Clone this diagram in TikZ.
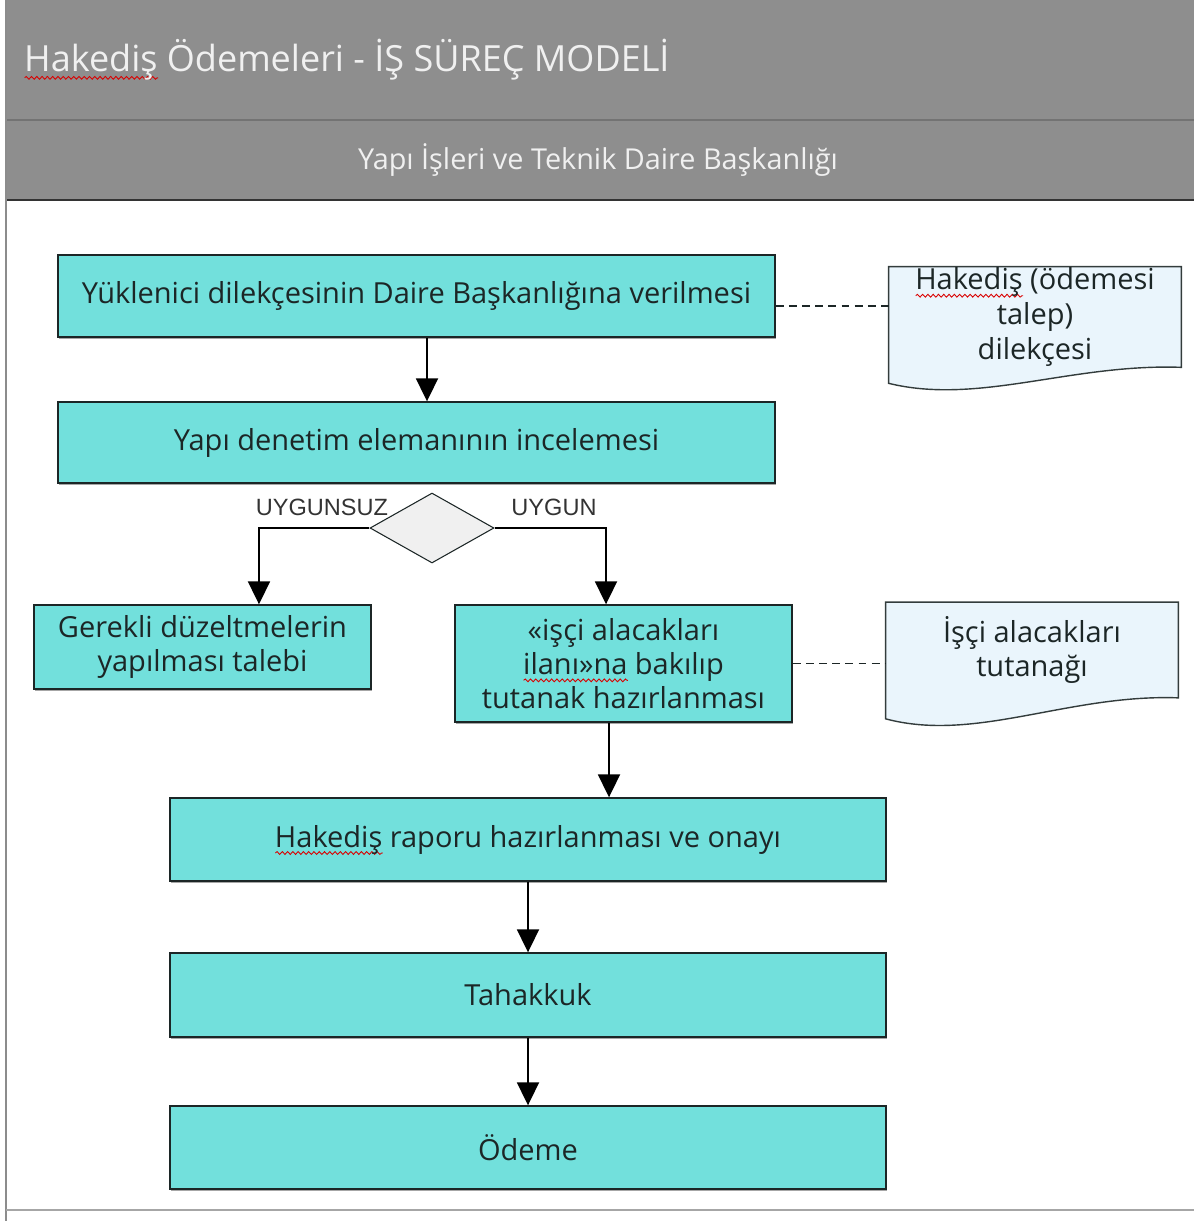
\documentclass[tikz,border=0pt]{standalone}
\usepackage{fontspec}
\usepackage{xcolor}
\usepackage{tikz}
\usetikzlibrary{arrows.meta,positioning,shapes.geometric,calc,backgrounds,shadows,decorations.pathmorphing}
\setmainfont{Open Sans}
\newfontfamily\lblfont{Liberation Sans}
\definecolor{band}{HTML}{8E8E8E}
\definecolor{turq}{HTML}{72E0DC}
\definecolor{paper}{HTML}{EAF5FC}
\definecolor{ink}{HTML}{1C2626}
% wavy red mark under a word
\newlength\spellw
\newcommand\spellmark[1]{\settowidth\spellw{#1}\leavevmode\rlap{\smash{\tikz[baseline=0pt]\draw[red!85!black,line width=0.5pt,decorate,decoration={snake,amplitude=0.8pt,segment length=3pt}] (0pt,-3.4pt) -- (\spellw,-3.4pt);}}#1}
\tikzset{box/.style={draw=ink,fill=turq,line width=0.8pt,align=center,text=ink,inner sep=0pt,
    font=\fontsize{16.5}{19.5}\selectfont,drop shadow={shadow xshift=0.4pt,shadow yshift=-1pt,fill=gray!70,opacity=1}},
  doc/.style={align=center,text=ink,inner sep=0pt,minimum width=5.84cm,font=\fontsize{16.5}{19.8}\selectfont},
  docline/.style={draw=ink!90,fill=paper,line width=0.8pt},
  dec/.style={diamond,draw=ink,fill=gray!12,line width=0.6pt,inner sep=0pt,minimum width=2.48cm,minimum height=1.4cm},
  arr/.style={-{Triangle[length=4.6mm,width=4.4mm]},line width=1.1pt,draw=black},
  dashline/.style={draw=ink,line width=0.75pt,dash pattern=on 4.5pt off 3pt},
  lbl/.style={font=\lblfont\fontsize{13.4}{15}\selectfont,text=black!80,inner sep=0pt}}
\begin{document}
\begin{tikzpicture}[x=0.02cm,y=-0.02cm]
\useasboundingbox (0,0) rectangle (1194,1221);
% header bands and frame
\fill[band] (7,0) rectangle (1194,200);
\draw[black!55,line width=1pt] (7,120) -- (1194,120);
\draw[black!80,line width=1.6pt] (7,200) -- (1194,200);
\draw[black!45,line width=1.2pt] (6,0) -- (6,1221);
\draw[black!35,line width=1.6pt] (6,1210) -- (1194,1210);
\node[anchor=west,text=white!94!black,font=\fontsize{20.5}{24}\selectfont] (title) at (18,60) {\spellmark{Hakediş} Ödemeleri - İŞ SÜREÇ MODELİ};
\node[text=white!94!black,font=\fontsize{16.4}{19}\selectfont] (unit) at (598,160) {Yapı İşleri ve Teknik Daire Başkanlığı};
% process steps
\node[box,minimum width=14.34cm,minimum height=1.64cm] (b1) at (416.5,296) {Yüklenici dilekçesinin Daire Başkanlığına verilmesi};
\node[box,minimum width=14.34cm,minimum height=1.62cm] (b2) at (416.5,442.5) {Yapı denetim elemanının incelemesi};
\node[dec] (chk) at (432,528) {};
\node[box,minimum width=6.74cm,minimum height=1.68cm] (fix) at (202.5,647) {Gerekli düzeltmelerin\\yapılması talebi};
\node[box,minimum width=6.74cm,minimum height=2.34cm] (b4) at (623.5,663.5) {«işçi alacakları\\\spellmark{ilanı»na} bakılıp\\tutanak hazırlanması};
\node[box,minimum width=14.32cm,minimum height=1.66cm] (b5) at (528,839.5) {\spellmark{Hakediş} raporu hazırlanması ve onayı};
\node[box,minimum width=14.32cm,minimum height=1.68cm] (b6) at (528,995) {Tahakkuk};
\node[box,minimum width=14.32cm,minimum height=1.66cm] (b7) at (528,1147.5) {Ödeme};
% documents
\node[doc,minimum height=2.0cm] (d1) at (1035,317) {\spellmark{Hakediş} (ödemesi\\talep)\\dilekçesi};
\node[doc,minimum height=1.9cm] (d2) at (1032,650) {İşçi alacakları\\tutanağı};
\begin{scope}[on background layer]
\draw[docline] ($(d1.south west)+(0,16)$) -- (d1.north west) -- (d1.north east) -- (d1.south east)
  .. controls +(-110,-4) and +(90,22) .. ($(d1.south west)+(0,16)$) -- cycle;
\draw[docline] ($(d2.south west)+(0,21)$) -- (d2.north west) -- (d2.north east) -- (d2.south east)
  .. controls +(-110,-4) and +(90,24) .. ($(d2.south west)+(0,21)$) -- cycle;
\end{scope}
\node[lbl] (no) at (322,507) {UYGUNSUZ};
\node[lbl] (yes) at (554,507) {UYGUN};
% connectors
\draw[arr] ([xshift=0.21cm]b1.south) -- ([xshift=0.21cm]b1.south |- b2.north);
\draw[arr] (chk.west) -| ([xshift=1.13cm]fix.north);
\draw[arr] (chk.east) -| ([xshift=-0.35cm]b4.north);
\draw[arr] ([xshift=-0.29cm]b4.south) -- ([xshift=-0.29cm]b4.south |- b5.north);
\draw[arr] (b5) -- (b6);
\draw[arr] (b6) -- (b7);
\draw[dashline] ([yshift=-0.2cm]b1.east) -- ([yshift=-0.2cm]b1.east -| d1.west);
\draw[dashline] (b4.east) -- (b4.east -| d2.west);
\end{tikzpicture}
\end{document}
